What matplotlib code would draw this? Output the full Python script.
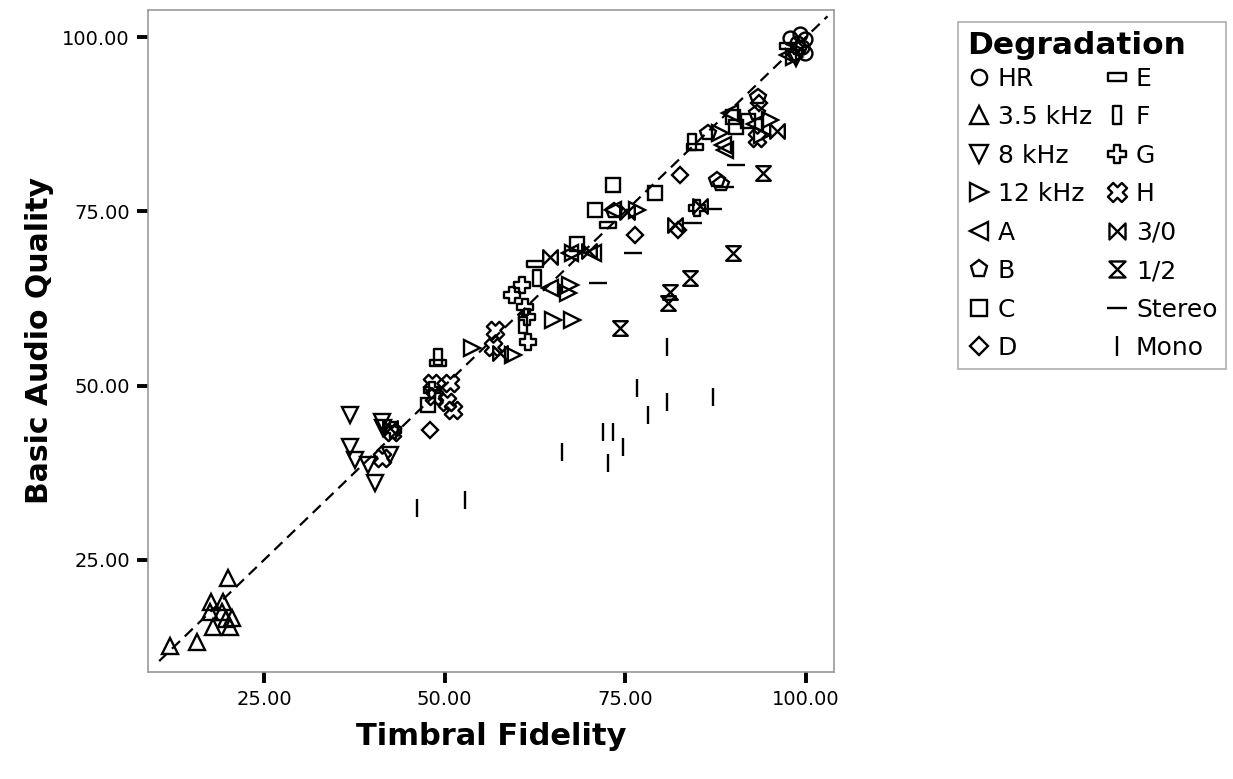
import numpy as np
import matplotlib
matplotlib.use("Agg")
import matplotlib.pyplot as plt
from matplotlib.path import Path
from matplotlib.ticker import FormatStrFormatter

plt.rcParams['font.family'] = ['DejaVu Sans']

# ---------------- data (Timbral Fidelity, Basic Audio Quality) ----------------
hr_x = [97.8, 99.2, 99.9, 98.5, 99.9, 98.8, 99.5]
hr_y = [99.9, 100.5, 99.8, 97.7, 97.7, 99.2, 98.6]
k35_x = [12.0, 15.7, 17.5, 19.2, 17.7, 19.4, 20.0, 20.6, 17.9, 20.3, 19.8]
k35_y = [12.6, 13.3, 17.5, 17.5, 19.0, 19.0, 22.4, 16.7, 15.4, 15.4, 16.5]
k8_x = [36.9, 41.3, 36.9, 37.6, 39.4, 40.4, 41.5, 42.4, 98.7]
k8_y = [45.8, 44.8, 41.2, 39.3, 38.6, 36.0, 44.0, 40.0, 97.0]
k12_x = [53.8, 59.5, 67.3, 67.1, 65.0, 67.6, 67.8, 76.6, 88.1, 95.0, 98.3, 94.0]
k12_y = [55.4, 54.4, 64.4, 63.3, 59.4, 59.4, 69.0, 75.2, 86.2, 88.1, 97.2, 86.0]
a_x = [64.6, 73.3, 67.3, 70.5, 88.5, 89.5, 97.5, 93.0, 88.8]
a_y = [64.0, 75.2, 69.0, 69.0, 84.5, 89.1, 97.4, 87.5, 83.8]
b_x = [93.4, 86.4, 93.2, 87.7, 88.3, 73.5, 99.0]
b_y = [91.4, 86.3, 89.1, 79.5, 79.0, 75.0, 98.5]
c_x = [73.3, 70.8, 79.1, 68.3, 89.9, 90.4, 47.7, 92.0]
c_y = [78.8, 75.2, 77.6, 70.4, 88.5, 87.1, 47.2, 88.0]
d_x = [48.0, 76.3, 82.6, 82.3, 93.5]
d_y = [43.6, 71.6, 80.2, 72.3, 90.5]
e_x = [84.6, 72.6, 62.5, 49.1, 97.5]
e_y = [84.3, 73.1, 67.5, 53.2, 98.8]
f_x = [84.2, 62.8, 60.8, 49.1]
f_y = [85.0, 65.4, 58.7, 54.1]
g_x = [59.3, 60.7, 61.1, 61.4, 61.6, 84.9, 42.8, 48.3]
g_y = [63.0, 64.4, 61.3, 59.9, 56.3, 75.5, 43.6, 49.4]
h_x = [48.3, 50.7, 50.3, 51.2, 57.0, 56.7, 41.3, 93.2, 42.7, 48.5]
h_y = [50.4, 50.4, 47.7, 46.5, 58.0, 55.5, 39.7, 85.6, 43.3, 48.5]
c30_x = [64.6, 70.0, 81.9, 85.3, 96.0, 57.7, 42.4, 75.2]
c30_y = [68.4, 69.3, 73.1, 75.8, 86.6, 54.7, 43.9, 74.9]
c12_x = [74.3, 80.9, 81.2, 83.9, 89.9, 94.1]
c12_y = [58.3, 61.8, 63.4, 65.5, 69.0, 80.5]
st_x = [90.4, 88.8, 84.4, 87.1, 76.1, 71.2]
st_y = [81.6, 78.5, 73.4, 75.4, 69.0, 64.7]
mo_x = [80.8, 76.6, 80.8, 87.1, 78.1, 71.9, 73.3, 74.7, 72.6, 66.2, 52.8, 46.2]
mo_y = [55.6, 49.7, 47.7, 48.4, 45.8, 43.4, 43.4, 41.2, 38.9, 40.5, 33.6, 32.4]

ref_x = [10.5, 103.0]
ref_y = [10.5, 103.0]

labels = ["HR", "3.5 kHz", "8 kHz", "12 kHz", "A", "B", "C", "D",
          "E", "F", "G", "H", "3/0", "1/2", "Stereo", "Mono"]
xt = [25, 50, 75, 100]

# ---------------- custom markers ----------------
def poly(v):
    v = list(v) + [v[0]]
    codes = [Path.MOVETO] + [Path.LINETO] * (len(v) - 2) + [Path.CLOSEPOLY]
    return Path(v, codes)

m_e = poly([(-1, -0.4), (1, -0.4), (1, 0.4), (-1, 0.4)])
m_f = poly([(-0.45, -1), (0.45, -1), (0.45, 1), (-0.45, 1)])
w = 0.38
cross = [(-w, 1), (w, 1), (w, w), (1, w), (1, -w), (w, -w), (w, -1), (-w, -1),
         (-w, -w), (-1, -w), (-1, w), (-w, w)]
m_g = poly(cross)
ang = np.deg2rad(45)
rot = [(x * np.cos(ang) - y * np.sin(ang), x * np.sin(ang) + y * np.cos(ang)) for x, y in cross]
m_h = poly(rot)
m_30 = poly([(-1, 1), (-1, -1), (1, 1), (1, -1)])
m_hg = poly([(-1, 1), (1, 1), (-1, -1), (1, -1)])

series = [
    (hr_x, hr_y, 'o', 10),
    (k35_x, k35_y, '^', 12),
    (k8_x, k8_y, 'v', 12),
    (k12_x, k12_y, '>', 12),
    (a_x, a_y, '<', 12),
    (b_x, b_y, 'p', 11.5),
    (c_x, c_y, 's', 10.5),
    (d_x, d_y, 'D', 8.5),
    (e_x, e_y, m_e, 11.5),
    (f_x, f_y, m_f, 11.5),
    (g_x, g_y, m_g, 11.5),
    (h_x, h_y, m_h, 12.5),
    (c30_x, c30_y, m_30, 10.5),
    (c12_x, c12_y, m_hg, 10.5),
    (st_x, st_y, '_', 13),
    (mo_x, mo_y, '|', 13),
]

fig = plt.figure(figsize=(12.33, 7.79), dpi=100)
ax = fig.add_axes([148 / 1233, 1 - 672 / 779, (834 - 148) / 1233, (672 - 10) / 779])

ax.plot(ref_x, ref_y, color='black', lw=1.6, dashes=(5, 3), zorder=1)

handles = []
for (xs, ys, mk, ms), lab in zip(series, labels):
    h, = ax.plot(xs, ys, linestyle='none', marker=mk, markersize=ms,
                 markerfacecolor='none', markeredgecolor='black',
                 markeredgewidth=1.7, label=lab, zorder=3)
    handles.append(h)

ax.set_xlim(8.95, 103.9)
ax.set_ylim(8.93, 103.9)
ax.set_xticks(xt)
ax.set_yticks(xt)
ax.xaxis.set_major_formatter(FormatStrFormatter('%.2f'))
ax.yaxis.set_major_formatter(FormatStrFormatter('%.2f'))
ax.tick_params(direction='out', length=8, width=2.8, labelsize=14, pad=5,
               color='black')
for sp in ax.spines.values():
    sp.set_color('#9a9a9a')
    sp.set_linewidth(1.2)

ax.set_xlabel('Timbral Fidelity', fontsize=22, fontweight='bold', labelpad=9)
ax.set_ylabel('Basic Audio Quality', fontsize=21.5, fontweight='bold', labelpad=6)

leg = fig.legend(handles=handles, labels=labels, ncol=2, loc='upper left',
                 bbox_to_anchor=(958 / 1233, 1 - 22 / 779),
                 title='Degradation', fontsize=18, frameon=True,
                 fancybox=False, edgecolor='#9a9a9a', handlelength=1.0,
                 handletextpad=0.25, columnspacing=0.5, labelspacing=0.58,
                 borderpad=0.35, borderaxespad=0, markerscale=1.1)
leg.get_title().set_fontsize(22.5)
leg.get_title().set_fontweight('bold')
leg._legend_box.align = 'left'
leg._legend_box.sep = 5
leg.get_frame().set_linewidth(1.2)

fig.savefig('out.png', dpi=100)
